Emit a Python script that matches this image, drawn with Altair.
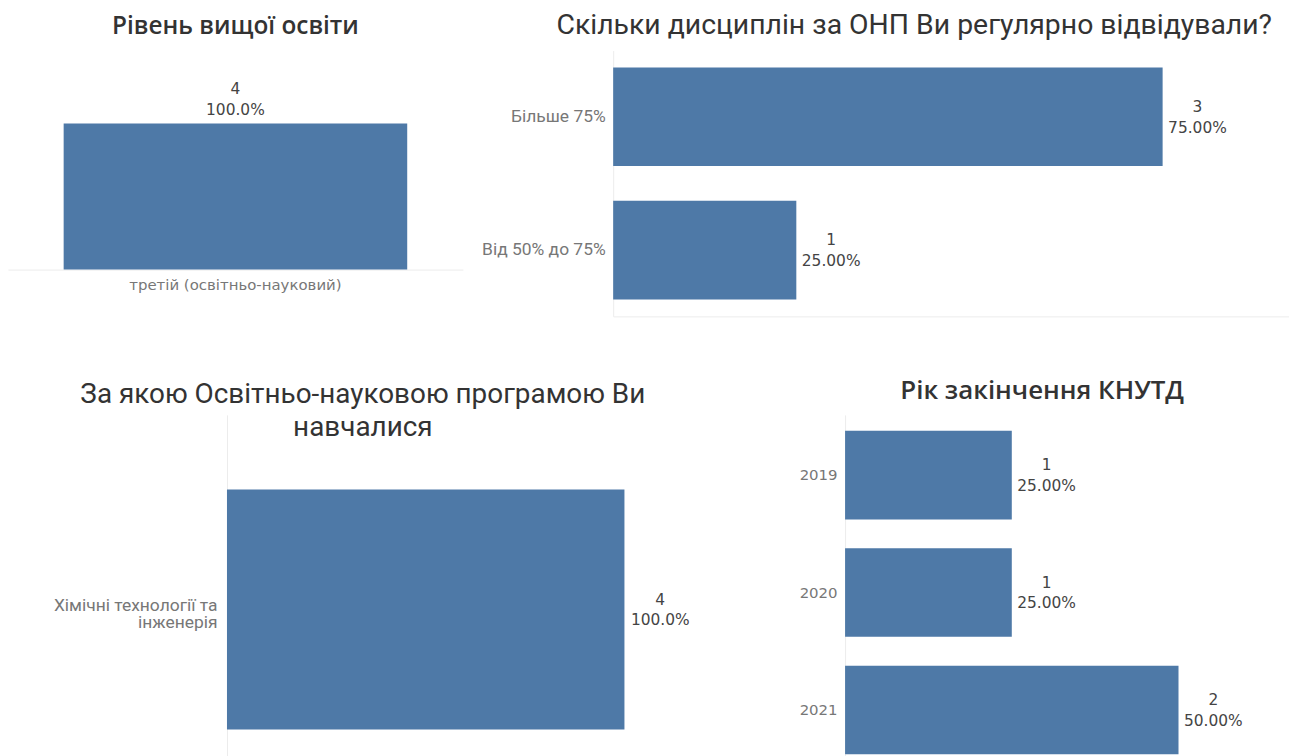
import altair as alt
import pandas as pd

# ---------------- data ----------------
level_categories = ["третій (освітньо-науковий)"]
level_counts = [4]

attend_categories = ["Більше 75%", "Від 50% до 75%"]
attend_counts = [3, 1]

program_categories = ["Хімічні технології та\nінженерія"]
program_counts = [4]

year_categories = ["2019", "2020", "2021"]
year_counts = [1, 1, 2]

title_level = "Рівень вищої освіти"
title_attend = "Скільки дисциплін за ОНП Ви регулярно відвідували?"
title_program = ["За якою Освітньо-науковою програмою Ви", "навчалися"]
title_year = "Рік закінчення КНУТД"

# ---------------- style ----------------
BAR = "#4e79a7"
TITLE_COLOR = "#333333"
LABEL_COLOR = "#444444"
AXIS_LABEL = "#777777"
DOMAIN = "#ececec"
WIDE = "Open Sans"
NARROW = "Roboto"
NUM = "DejaVu Sans"


def base(cats, counts, fmt):
    df = pd.DataFrame({"cat": cats, "n": counts})
    return (
        alt.Chart(df)
        .transform_joinaggregate(total="sum(n)")
        .transform_calculate(
            label="datum.n + '\\n' + format(datum.n / datum.total, '" + fmt + "')"
        )
    )


def hlabel(b, x, y, dx):
    return b.mark_text(
        align="center", baseline="middle", dx=dx, dy=-10, lineBreak="\n",
        lineHeight=21, font=NUM, fontSize=15.5, color=LABEL_COLOR,
    ).encode(x=x, y=y, text="label:N")


# ---------- panel 1: vertical bar ----------
b1 = base(level_categories, level_counts, ".1%")
x1 = alt.X(
    "cat:N",
    sort=level_categories,
    title=None,
    scale=alt.Scale(paddingInner=0, paddingOuter=0.162),
    axis=alt.Axis(
        labelAngle=0, ticks=False, domainColor=DOMAIN, labelColor=AXIS_LABEL,
        labelFont=NUM, labelFontSize=15, labelPadding=8, labelLimit=400,
    ),
)
y1 = alt.Y("n:Q", scale=alt.Scale(domain=[0, 6], nice=False), axis=None)
p1 = alt.layer(
    b1.mark_bar(color=BAR).encode(x=x1, y=y1),
    b1.mark_text(
        baseline="bottom", dy=-27, lineBreak="\n", lineHeight=21,
        font=NUM, fontSize=15.5, color=LABEL_COLOR,
    ).encode(x=x1, y=y1, text="label:N"),
).properties(
    width=457, height=220,
    title=alt.TitleParams(
        title_level, anchor="middle", frame="group", font=WIDE, fontSize=24.5,
        fontWeight=600, color=TITLE_COLOR, baseline="alphabetic", offset=17,
        dy=24.5,
    ),
)

# ---------- panel 2: horizontal bars ----------
b2 = base(attend_categories, attend_counts, ".2%")
y2 = alt.Y(
    "cat:N", sort=attend_categories, title=None,
    scale=alt.Scale(paddingInner=0.261, paddingOuter=0.127),
    axis=alt.Axis(
        ticks=False, domainColor=DOMAIN, labelColor=AXIS_LABEL, labelFont=NARROW,
        labelFontSize=17.5, labelPadding=8, labelLimit=300,
    ),
)
x2 = alt.X(
    "n:Q", scale=alt.Scale(domain=[0, 3.69], nice=False),
    axis=alt.Axis(labels=False, ticks=False, grid=False, title=None, domainColor=DOMAIN),
)
p2 = alt.layer(
    b2.mark_bar(color=BAR).encode(x=x2, y=y2),
    hlabel(b2, x2, y2, 35),
).properties(
    width=679, height=267,
    title=alt.TitleParams(
        title_attend, anchor="middle", frame="group", font=NARROW, fontSize=28.5,
        fontWeight="normal", color=TITLE_COLOR, baseline="alphabetic", offset=17,
        dy=28.5, dx=-37,
    ),
)

# ---------- spacer ----------
spacer = (
    alt.Chart(pd.DataFrame({"v": [0]}))
    .mark_point(opacity=0)
    .encode(x=alt.X("v:Q", axis=None), y=alt.Y("v:Q", axis=None))
    .properties(width=200, height=10)
)

# ---------- panel 3 ----------
b3 = base(program_categories, program_counts, ".1%")
y3 = alt.Y(
    "cat:N", sort=program_categories, title=None,
    scale=alt.Scale(paddingInner=0, paddingOuter=0.2407, align=0.647),
    axis=alt.Axis(
        ticks=False, domainColor=DOMAIN, labelColor=AXIS_LABEL, labelFont=NARROW,
        labelFontSize=17.5, labelPadding=10, labelLimit=300, labelLineHeight=18,
        labelOffset=-4, labelExpr="split(datum.label, '\\n')",
    ),
)
x3 = alt.X("n:Q", scale=alt.Scale(domain=[0, 6.02], nice=False), axis=None)
p3 = alt.layer(
    b3.mark_bar(color=BAR).encode(x=x3, y=y3),
    hlabel(b3, x3, y3, 36),
).properties(
    width=601, height=357,
    title=alt.TitleParams(
        title_program, anchor="middle", frame="group", font=NARROW, fontSize=28,
        fontWeight="normal", color=TITLE_COLOR, baseline="alphabetic", offset=12,
        dy=61, dx=-164, lineHeight=33,
    ),
)

# ---------- panel 4 ----------
b4 = base(year_categories, year_counts, ".2%")
y4 = alt.Y(
    "cat:N", sort=year_categories, title=None,
    scale=alt.Scale(paddingInner=0.246, paddingOuter=0.136),
    axis=alt.Axis(
        ticks=False, domainColor=DOMAIN, labelColor=AXIS_LABEL, labelFont=NUM,
        labelFontSize=15, labelPadding=8,
    ),
)
x4 = alt.X("n:Q", scale=alt.Scale(domain=[0, 2.627], nice=False), axis=None)
p4 = alt.layer(
    b4.mark_bar(color=BAR).encode(x=x4, y=y4),
    hlabel(b4, x4, y4, 35),
).properties(
    width=440, height=357,
    title=alt.TitleParams(
        title_year, anchor="middle", frame="group", font=WIDE, fontSize=26,
        fontWeight=600, color=TITLE_COLOR, baseline="alphabetic", offset=14, dy=24,
        dx=-22,
    ),
)

top = alt.hconcat(p1, p2, spacing=151, bounds="flush")
bottom = alt.hconcat(spacer, p3, p4, spacing=20, bounds="flush")

chart = (
    alt.vconcat(top, bottom, spacing=62)
    .properties(padding={"left": 0, "top": 1, "right": 0, "bottom": 0})
    .configure_view(strokeWidth=0)
)

chart.save("out.html", embed_options={"renderer": "svg", "actions": False})
